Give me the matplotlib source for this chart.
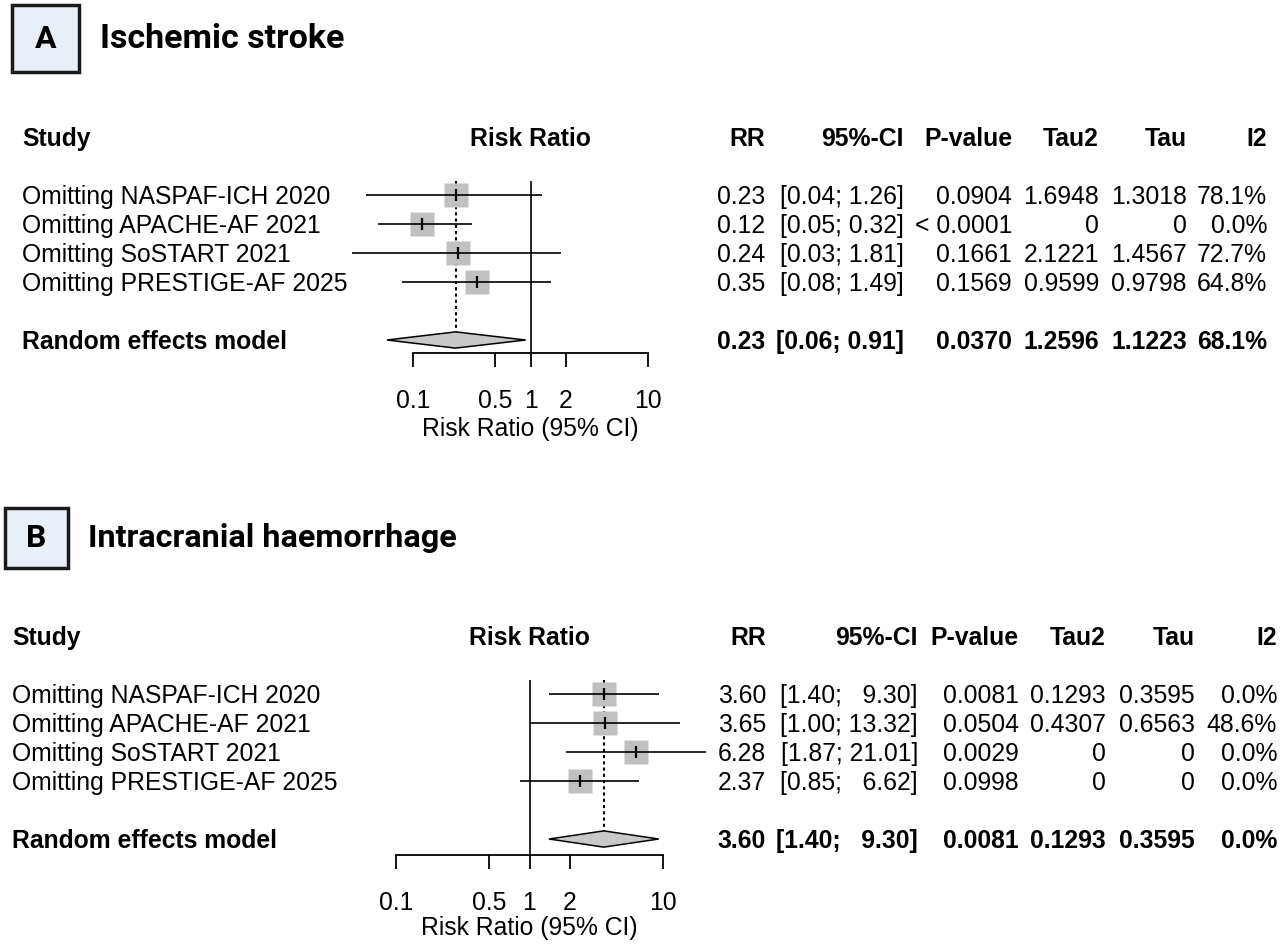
import numpy as np
import matplotlib
matplotlib.use('Agg')
import matplotlib.pyplot as plt
from matplotlib.patches import Rectangle
from matplotlib.ticker import NullLocator
from matplotlib.transforms import blended_transform_factory

plt.rcParams['font.family'] = ['Liberation Sans', 'DejaVu Sans']

# study labels (same for both panels)
studies = ['Omitting NASPAF-ICH 2020', 'Omitting APACHE-AF 2021',
           'Omitting SoSTART 2021', 'Omitting PRESTIGE-AF 2025']
col_heads = ['RR', '95%-CI', 'P-value', 'Tau2', 'Tau', 'I2']
axis_ticks = [0.1, 0.5, 1, 2, 10]
axis_labels = ['0.1', '0.5', '1', '2', '10']

# panel A - ischemic stroke
a_rr = [0.23, 0.12, 0.24, 0.35]
a_lo = [0.04, 0.05, 0.03, 0.08]
a_hi = [1.26, 0.32, 1.81, 1.49]
a_p = ['0.0904', '< 0.0001', '0.1661', '0.1569']
a_tau2 = ['1.6948', '0', '2.1221', '0.9599']
a_tau = ['1.3018', '0', '1.4567', '0.9798']
a_i2 = ['78.1%', '0.0%', '72.7%', '64.8%']
a_pool = [0.23, 0.06, 0.91]
a_pool_txt = ['0.0370', '1.2596', '1.1223', '68.1%']

# panel B - intracranial haemorrhage
b_rr = [3.60, 3.65, 6.28, 2.37]
b_lo = [1.40, 1.00, 1.87, 0.85]
b_hi = [9.30, 13.32, 21.01, 6.62]
b_p = ['0.0081', '0.0504', '0.0029', '0.0998']
b_tau2 = ['0.1293', '0.4307', '0', '0']
b_tau = ['0.3595', '0.6563', '0', '0']
b_i2 = ['0.0%', '48.6%', '0.0%', '0.0%']
b_pool = [3.60, 1.40, 9.30]
b_pool_txt = ['0.0081', '0.1293', '0.3595', '0.0%']

W, H = 1280, 947
fig = plt.figure(figsize=(W / 100, H / 100), dpi=100)
FS = 17.8
GREY = '#c0c0c0'
BOFF = 0.31  # baseline offset (rows) so caps are centred on the row


def ci_text(lo, hi, wide):
    s_lo = '%.2f' % lo
    s_hi = '%.2f' % hi
    if wide and len(s_hi) < 5:
        s_hi = '  ' + s_hi
    return '[%s; %s]' % (s_lo, s_hi)


def panel(row0, x01, x10, study_x, col_x, axis_row, rr, lo, hi, p, tau2, tau, i2,
          pool, pool_txt, wide):
    rh = 29.0
    top, bot = -2.6, 8.5
    ax = fig.add_axes([0, 1 - (row0 + bot * rh) / H, 1, (bot - top) * rh / H])
    dec = (x10 - x01) / 2.0
    ax.set_xscale('log')
    ax.set_xlim(10 ** (-1 - x01 / dec), 10 ** (-1 + (W - x01) / dec))
    ax.set_ylim(bot, top)
    ax.patch.set_alpha(0)
    for s in ['top', 'left', 'right']:
        ax.spines[s].set_visible(False)
    ax.spines['bottom'].set_position(('data', axis_row))
    ax.spines['bottom'].set_bounds(0.1, 10)
    ax.spines['bottom'].set_linewidth(1.3)
    ax.set_xticks(axis_ticks)
    ax.set_xticklabels(axis_labels)
    ax.xaxis.set_minor_locator(NullLocator())
    ax.tick_params(axis='x', direction='out', length=10, width=1.3, pad=16,
                   labelsize=FS)
    ax.set_yticks([])

    rows = np.arange(len(rr))
    # reference line and pooled estimate line
    ax.vlines(1, -0.48, axis_row, color='black', lw=1.2, zorder=1)
    ax.vlines(pool[0], -0.48, 5 - 0.28, color='black', lw=1.5,
              linestyles=(0, (1.5, 1.5)), zorder=1)
    ax.plot(rr, rows, 's', ms=17, color=GREY, mec='none', zorder=3)
    ax.hlines(rows, lo, hi, color='black', lw=1.2, zorder=4)
    ax.plot(rr, rows, '|', ms=9, color='black', mew=1.6, zorder=5)
    ax.fill([pool[1], pool[0], pool[2], pool[0]], [5, 5 - 0.28, 5, 5 + 0.28],
            facecolor='#c8c8c8', edgecolor='black', lw=1.1, zorder=3)

    tr = blended_transform_factory(ax.transAxes, ax.transData)
    kw = dict(va='baseline', fontsize=FS)
    ax.text(study_x / W, -2 + BOFF, 'Study', transform=tr, ha='left',
            fontweight='bold', **kw)
    ax.text(1, -2 + BOFF, 'Risk Ratio', ha='center', fontweight='bold', **kw)
    ax.text(1, 8.0 + BOFF, 'Risk Ratio (95% CI)', ha='center', **kw)
    for h, cx in zip(col_heads, col_x):
        ax.text(cx / W, -2 + BOFF, h, transform=tr, ha='right',
                fontweight='bold', **kw)
    for i in rows:
        ax.text(study_x / W, i + BOFF, studies[i], transform=tr, ha='left', **kw)
        vals = ['%.2f' % rr[i], ci_text(lo[i], hi[i], wide), p[i], tau2[i],
                tau[i], i2[i]]
        for v, cx in zip(vals, col_x):
            ax.text(cx / W, i + BOFF, v, transform=tr, ha='right', **kw)
    ax.text(study_x / W, 5 + BOFF, 'Random effects model', transform=tr,
            ha='left', fontweight='bold', **kw)
    vals = ['%.2f' % pool[0], ci_text(pool[1], pool[2], wide)] + pool_txt
    for v, cx in zip(vals, col_x):
        ax.text(cx / W, 5 + BOFF, v, transform=tr, ha='right',
                fontweight='bold', **kw)
    return ax


def title_box(x0, y0, x1, y1, letter, tx, title, tsize):
    fig.patches.append(Rectangle((x0 / W, 1 - y1 / H), (x1 - x0) / W,
                                 (y1 - y0) / H, transform=fig.transFigure,
                                 facecolor='#e9eff7', edgecolor='#1a1a1a',
                                 lw=2.5))
    fig.text((x0 + x1) / 2 / W, 1 - (y0 + y1) / 2 / H, letter, ha='center',
             va='center', fontsize=23, fontweight='bold',
             family=['Roboto', 'DejaVu Sans'])
    fig.text(tx / W, 1 - (y0 + y1) / 2 / H, title, ha='left', va='center',
             fontsize=tsize, fontweight='bold',
             family=['Roboto', 'DejaVu Sans'])


title_box(12, 5, 79, 72, 'A', 100, 'Ischemic stroke', 24.5)
title_box(5, 508, 68, 568, 'B', 88, 'Intracranial haemorrhage', 23.3)

panel(195, 413, 648, 22, [765, 904, 1012, 1099, 1187, 1267], 5.45,
      a_rr, a_lo, a_hi, a_p, a_tau2, a_tau, a_i2, a_pool, a_pool_txt, False)
panel(694, 396, 663, 12, [766, 918, 1019, 1106, 1195, 1277], 5.55,
      b_rr, b_lo, b_hi, b_p, b_tau2, b_tau, b_i2, b_pool, b_pool_txt, True)

fig.savefig('out.png', dpi=100)
